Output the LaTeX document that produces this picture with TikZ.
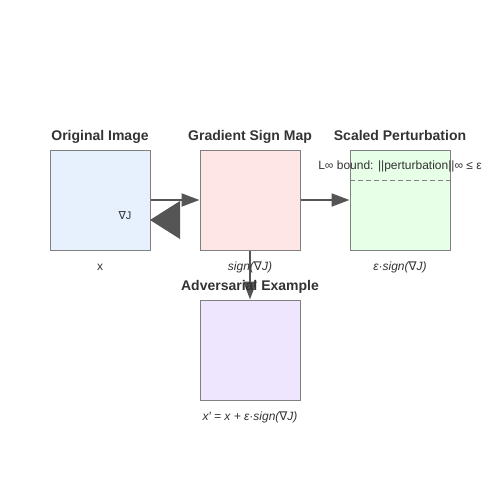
\documentclass[tikz,border=0pt]{standalone}
\usepackage{fontspec}
\setmainfont{Liberation Sans}
\newfontfamily\nablafont{DejaVu Sans}
\usetikzlibrary{arrows.meta}

\definecolor{origfill}{HTML}{E6F1FD}
\definecolor{gradfill}{HTML}{FFE6E6}
\definecolor{scalfill}{HTML}{E6FFE6}
\definecolor{advfill}{HTML}{EEE6FF}
\definecolor{boxline}{HTML}{808080}
\definecolor{arrowgray}{HTML}{555555}
\definecolor{textgray}{HTML}{333333}

\newcommand{\grad}{{\nablafont ∇}}

\tikzset{
  imgbox/.style={draw=boxline, line width=1pt, minimum size=100pt, inner sep=0pt},
  boxtitle/.style={font=\fontsize{14}{16}\selectfont\bfseries, text=textgray, anchor=base},
  caption/.style={font=\fontsize{12}{14}\selectfont, text=textgray, anchor=base},
  flow/.style={draw=arrowgray, line width=2pt, -{Triangle[length=18pt,width=13pt]}}
}

\begin{document}
\begin{tikzpicture}[x=1pt,y=-1pt]
\useasboundingbox (0,0) rectangle (500,500);

% the four images
\node[imgbox, fill=origfill] (orig) at (100,200) {};
\node[imgbox, fill=gradfill] (grad) at (250,200) {};
\node[imgbox, fill=scalfill] (scal) at (400,200) {};
\node[imgbox, fill=advfill]  (adv)  at (250,350) {};

% bound inside the scaled perturbation
\draw[boxline, line width=1pt, dash pattern=on 5pt off 3pt] (scal.west |- 0,180) -- (scal.east |- 0,180);
\node[caption] (bound) at (400,169) {L∞ bound: ||perturbation||∞ ≤ ε};

% titles
\node[boxtitle] (origtitle) at (100,140) {Original Image};
\node[boxtitle] (gradtitle) at (250,140) {Gradient Sign Map};
\node[boxtitle] (scaltitle) at (400,140) {Scaled Perturbation};

% arrows
\draw[flow] (orig.east) -- (grad.west);
\draw[flow] (grad.east) -- (scal.west);
\draw[flow] (grad.south) -- (adv.north);
\fill[arrowgray] (150,220) -- (180,201) -- (180,239) -- cycle;
\node[caption, font=\fontsize{11}{13}\selectfont] (gradlabel) at (125,219) {\grad J};

% captions
\node[caption] (origcap) at (100,270) {x};
\node[caption, font=\fontsize{12}{14}\selectfont\itshape] (gradcap) at (250,270) {sign(\grad J)};
\node[caption, font=\fontsize{12}{14}\selectfont\itshape] (scalcap) at (400,270) {ε·sign(\grad J)};
\node[boxtitle] (advtitle) at (250,290) {Adversarial Example};
\node[caption, font=\fontsize{12}{14}\selectfont\itshape] (advcap) at (250,420) {x′ = x + ε·sign(\grad J)};
\end{tikzpicture}
\end{document}
